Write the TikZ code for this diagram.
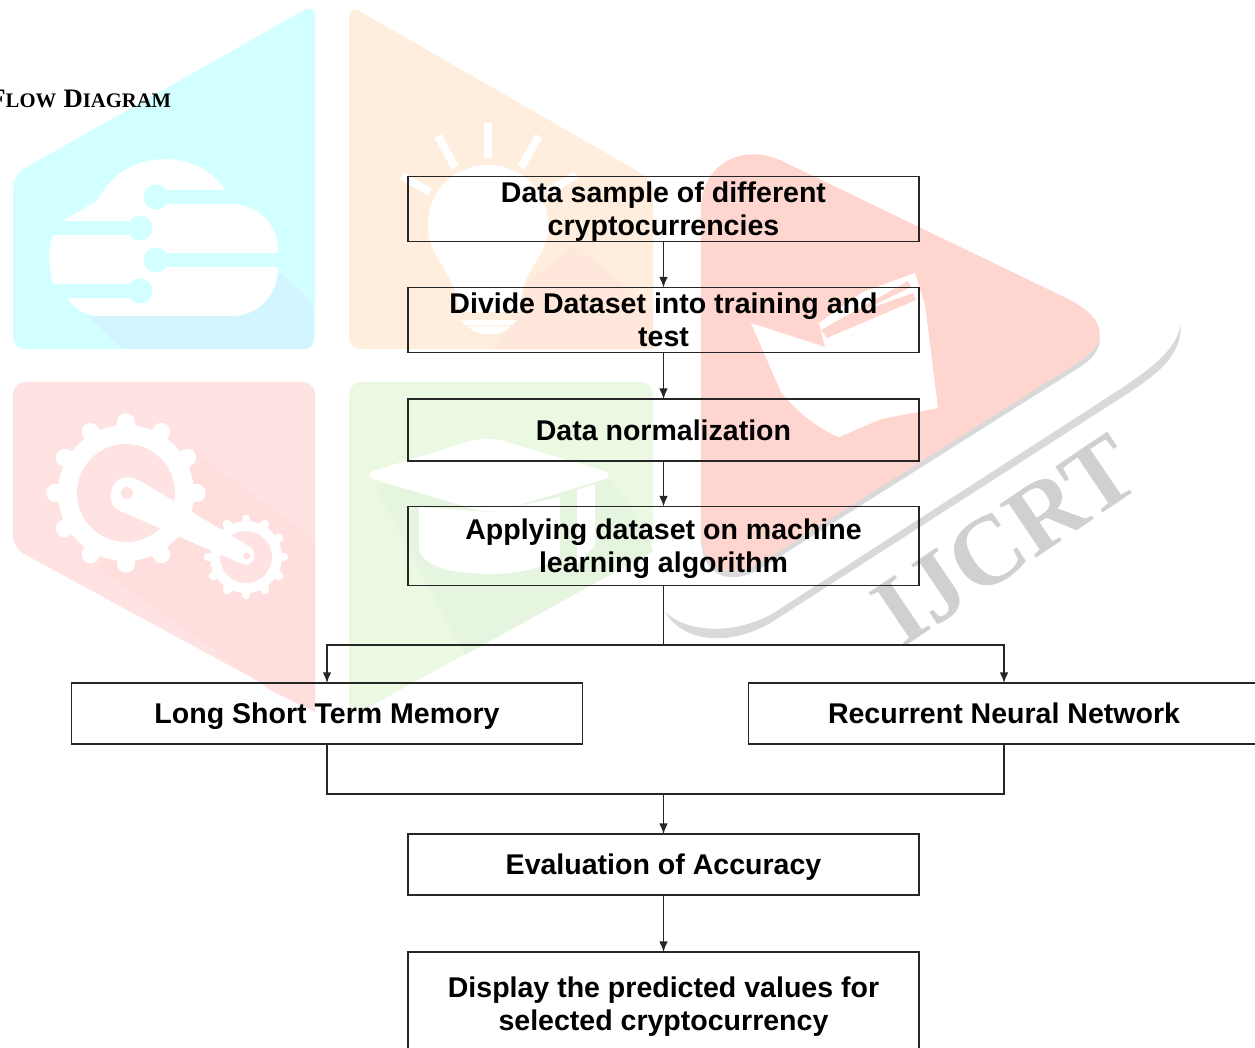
\documentclass[tikz,border=0pt]{standalone}
\usepackage{fontspec}
\setmainfont{Liberation Sans}
\newfontfamily\timesfont{Liberation Serif}
\usetikzlibrary{arrows.meta}
\definecolor{wcyan}{HTML}{D2FFFF}
\definecolor{wcyans}{HTML}{D2F5FF}
\definecolor{worange}{HTML}{FFEEDD}
\definecolor{woranges}{HTML}{FFE8DB}
\definecolor{wpink}{HTML}{FFE2E2}
\definecolor{wpinks}{HTML}{FFDEDE}
\definecolor{wgreen}{HTML}{EBF9E2}
\definecolor{wgreens}{HTML}{E6F5DF}
\definecolor{wred}{HTML}{FFD6CF}
\definecolor{wgray}{HTML}{D9D9D9}
\definecolor{wgrayt}{HTML}{D0D0D0}
\newcommand\flowline[1]{\rule{0pt}{15.4pt}\smash{#1}}
\tikzset{
  flowbox/.style={draw=black!85,line width=1.1pt,rectangle,inner sep=0pt,outer sep=0pt,
    minimum width=383.25pt,align=center,text=black,
    font=\fontsize{21.4}{24.75}\selectfont\bfseries},
  link/.style={draw=black!85,line width=1.1pt},
  linkarrow/.style={link,-{Latex[length=8pt,width=6.5pt]}},
  panel/.style={rounded corners=9pt,draw=none},
  ray/.style={draw=white,line width=6pt},
  stripe/.style={draw=wcyan,line width=11pt}
}
\begin{document}
\begin{tikzpicture}[x=0.75pt,y=-0.75pt]
\useasboundingbox (0,0) rectangle (1255,1047);
\clip (0,0) rectangle (1255,1047);
% ---------- cyan panel
\fill[wcyan,panel] (13,349) -- (13,175) -- (315,4) -- (315,349) -- cycle;
\fill[wcyans,rounded corners=6pt] (85,313) -- (278,270) -- (313,303) -- (313,349) -- (122,349) -- cycle;
\fill[white] (64,220) -- (97,201) .. controls (110,175) and (135,159) .. (165,159)
  .. controls (190,159) and (212,170) .. (225,190) -- (240,205)
  .. controls (262,208) and (278,228) .. (278,250) -- (278,268)
  .. controls (278,295) and (258,316) .. (232,316) -- (95,316)
  .. controls (82,314) and (72,306) .. (67,298) -- (53,284)
  .. controls (48,265) and (48,250) .. (53,235) -- cycle;
\draw[stripe] (156,197) -- (250,197);
\fill[wcyan] (156,197) circle (12.5);
\draw[stripe] (30,228) -- (140,228);
\fill[wcyan] (140,228) circle (12.5);
\draw[stripe] (156,260) -- (279,260);
\fill[wcyan] (156,260) circle (12.5);
\draw[stripe] (30,291) -- (140,291);
\fill[wcyan] (140,291) circle (12.5);
% ---------- orange panel
\fill[worange,panel] (349,5) -- (653,180) -- (653,349) -- (349,349) -- cycle;
\fill[woranges] (495,349) -- (530,280) -- (575,245) -- (653,310) -- (653,349) -- cycle;
\fill[white] (455,292) .. controls (445,262) and (428,255) .. (428,225)
  .. controls (428,190) and (455,165) .. (488,165)
  .. controls (521,165) and (548,190) .. (548,225)
  .. controls (548,255) and (530,262) .. (522,292) -- cycle;
\fill[white] (455,292) -- (522,292) -- (520,312) -- (460,312) -- cycle;
\fill[white] (460,320) -- (517,320) -- (512,325) -- (465,325) -- cycle;
\fill[white] (468,326) -- (510,326) .. controls (505,337) and (475,337) .. (468,326) -- cycle;
\draw[ray] (488,123) -- (488,158);
\draw[ray] (438,136) -- (455,167);
\draw[ray] (539,136) -- (521,167);
\draw[ray] (402,176) -- (430,192);
\draw[ray] (576,175) -- (548,192);
% ---------- pink panel
\fill[wpink,panel] (13,382) -- (315,382) -- (315,712) -- (13,548) -- cycle;
\fill[wpinks] (195,452) -- (315,540) -- (315,712) -- (270,690) -- (97,567) -- cycle;
\begin{scope}[shift={(126,493)}]
  \fill[white] (0,0) circle (68);
  \foreach \a in {0,30,...,330} \draw[white,line width=13pt,line cap=round] (\a:60) -- (\a:71);
  \fill[wpink] (0,0) circle (49);
\end{scope}
\begin{scope}[shift={(246,557)}]
  \fill[white] (0,0) circle (36);
  \foreach \a in {0,30,...,330} \draw[white,line width=6.5pt,line cap=round] (\a:30) -- (\a:38);
  \fill[wpink] (0,0) circle (26);
\end{scope}
\fill[white] (118,480) .. controls (125,475) and (135,478) .. (142,482)
  -- (252,548) .. controls (258,555) and (252,568) .. (242,564)
  -- (118,510) .. controls (108,505) and (108,488) .. (118,480) -- cycle;
\fill[wpink] (127,493) circle (6);
\fill[wpink] (247,556) circle (3.5);
% ---------- green panel
\fill[wgreen,panel] (349,382) -- (653,382) -- (653,551) -- (349,718) -- cycle;
\fill[wgreens] (375,485) -- (610,478) -- (645,530) -- (653,551) -- (465,655) -- cycle;
\fill[white,rounded corners=12pt] (360,475) -- (487,436) -- (618,475) -- (490,514) -- cycle;
\fill[white] (419,507) -- (490,512) -- (560,497) -- (560,556)
  .. controls (540,572) and (500,576) .. (473,573)
  .. controls (445,572) and (425,565) .. (419,550) -- cycle;
\fill[white] (577,490) -- (595,484) -- (595,545) -- (577,565) -- cycle;
% ---------- red play shape
\fill[wgray,yshift=-4.5pt] (701,210) .. controls (701,165) and (740,143) .. (780,160) -- (1060,295)
  .. controls (1105,315) and (1112,340) .. (1080,361) -- (765,560)
  .. controls (735,580) and (701,575) .. (701,530) -- cycle;
\fill[wred] (701,210) .. controls (701,165) and (740,143) .. (780,160) -- (1060,295)
  .. controls (1105,315) and (1112,340) .. (1080,361) -- (765,560)
  .. controls (735,580) and (701,575) .. (701,530) -- cycle;
\fill[white] (751,323) -- (781,392) .. controls (795,410) and (820,430) .. (839,437)
  -- (881,419) -- (938,408) -- (925,305) -- (825,347) -- cycle;
\fill[white] (819,323) -- (863,292) -- (915,273) -- (925,305) -- (825,347) -- cycle;
\fill[wred] (821,330) -- (908,281) -- (911,287) -- (860,312) -- (913,293) -- (916,300) -- (827,338) -- cycle;
% ---------- gray swoosh and mark
\fill[wgray] (1181,325) .. controls (1181,355) and (1160,372) .. (1130,392) -- (775,620)
  .. controls (735,646) and (685,645) .. (665,612)
  .. controls (690,634) and (735,634) .. (772,614) -- (1125,386)
  .. controls (1155,365) and (1175,350) .. (1181,325) -- cycle;
\node[rotate=34,text=wgrayt,font=\timesfont\bfseries\fontsize{74}{74}\selectfont,inner sep=0pt] (mark) at (1006,540) {IJCRT};
% ---------- heading
\node[anchor=base east,inner sep=0pt,font=\timesfont\bfseries] (heading) at (171.5,107)
  {{\fontsize{20}{20}\selectfont F}{\fontsize{15.5}{20}\selectfont LOW}\hspace{5.5pt}{\fontsize{20}{20}\selectfont D}{\fontsize{15.5}{20}\selectfont IAGRAM}};
% ---------- flow boxes
\node[flowbox,minimum height=48.75pt] (a) at (663.5,209) {\flowline{Data sample of different}\\\flowline{cryptocurrencies}};
\node[flowbox,minimum height=48.75pt] (b) at (663.5,320) {\flowline{Divide Dataset into training and}\\\flowline{test}};
\node[flowbox,minimum height=46.5pt] (c) at (663.5,430) {\flowline{Data normalization}};
\node[flowbox,minimum height=59.25pt] (d) at (663.5,546) {\flowline{Applying dataset on machine}\\\flowline{learning algorithm}};
\node[flowbox,minimum height=45.75pt] (e) at (327,713.5) {\flowline{Long Short Term Memory}};
\node[flowbox,minimum height=45.75pt] (f) at (1004,713.5) {\flowline{Recurrent Neural Network}};
\node[flowbox,minimum height=45.75pt] (g) at (663.5,864.5) {\flowline{Evaluation of Accuracy}};
\node[flowbox,minimum height=77.25pt] (h) at (663.5,1003.5) {\flowline{Display the predicted values for}\\\flowline{selected cryptocurrency}};
% ---------- connectors
\coordinate (busT) at (663.5,645);
\coordinate (busB) at (663.5,794);
\draw[linkarrow] (a) -- (b);
\draw[linkarrow] (b) -- (c);
\draw[linkarrow] (c) -- (d);
\draw[link] (d) -- (busT);
\draw[linkarrow] (busT) -| (e);
\draw[linkarrow] (busT) -| (f);
\draw[link] (e) |- (busB) -| (f);
\draw[linkarrow] (busB) -- (g);
\draw[linkarrow] (g) -- (h);
\end{tikzpicture}
\end{document}
